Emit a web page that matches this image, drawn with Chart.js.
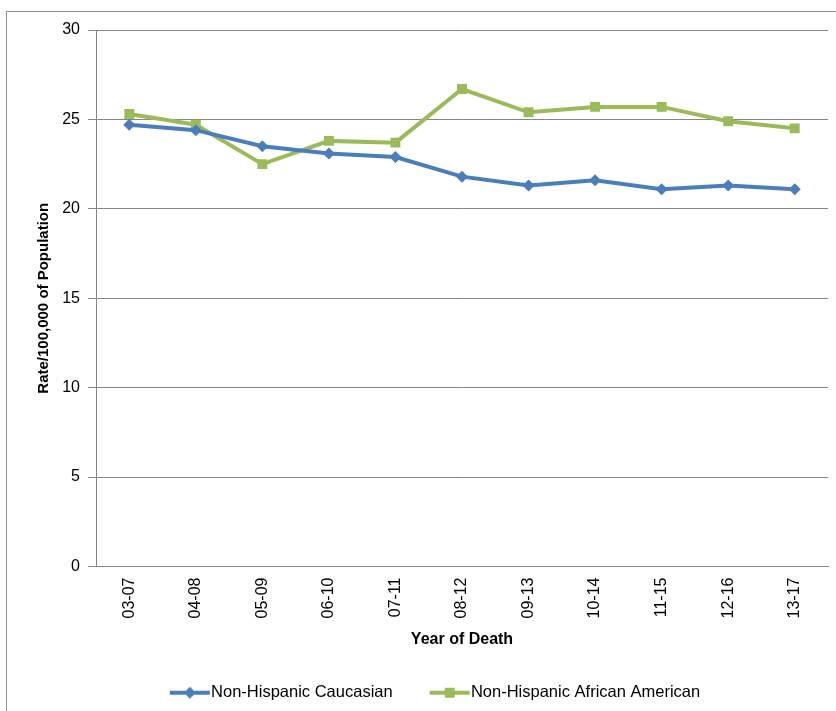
<!DOCTYPE html>
<html>
<head>
<meta charset="utf-8">
<script src="https://cdn.jsdelivr.net/npm/chart.js@4"></script>
<style>
  html, body { margin: 0; padding: 0; background: #fff; }
  #wrap { position: absolute; left: 0; top: 0; width: 836px; height: 711px; }
</style>
</head>
<body>
<div id="wrap"><canvas id="c" width="836" height="711"></canvas></div>
<script>
const categories = ["03-07","04-08","05-09","06-10","07-11","08-12","09-13","10-14","11-15","12-16","13-17"];
const caucasian = [24.7, 24.4, 23.5, 23.1, 22.9, 21.8, 21.3, 21.6, 21.1, 21.3, 21.1];
const africanAmerican = [25.3, 24.7, 22.5, 23.8, 23.7, 26.7, 25.4, 25.7, 25.7, 24.9, 24.5];
const seriesNames = ["Non-Hispanic Caucasian", "Non-Hispanic African American"];
const yTicks = [0, 5, 10, 15, 20, 25, 30];

const BLUE = "#4a7ebb";
const GREEN = "#9bbb59";
const GRID = "#868686";
const FONT = "'Liberation Sans', Arial, sans-serif";

function legendIcon(color, style) {
  const cv = document.createElement("canvas");
  cv.width = 80; cv.height = 14;
  const ctx = cv.getContext("2d");
  ctx.strokeStyle = color; ctx.lineWidth = 4;
  ctx.beginPath(); ctx.moveTo(27, 7); ctx.lineTo(67, 7); ctx.stroke();
  ctx.fillStyle = color;
  if (style === "diamond") {
    ctx.beginPath(); ctx.moveTo(47, 1); ctx.lineTo(53, 7); ctx.lineTo(47, 13); ctx.lineTo(41, 7); ctx.closePath(); ctx.fill();
  } else {
    ctx.fillRect(42, 2, 10, 10);
  }
  return cv;
}

const framePlugin = {
  id: "frame",
  beforeDraw(chart) {
    const ctx = chart.ctx;
    ctx.save();
    ctx.strokeStyle = "#8c8c8c";
    ctx.lineWidth = 1;
    ctx.strokeRect(6.5, 11.5, 1000, 1000);
    ctx.restore();
  }
};

new Chart(document.getElementById("c"), {
  type: "line",
  data: {
    labels: categories,
    datasets: [
      {
        label: seriesNames[0], data: caucasian,
        borderColor: BLUE, backgroundColor: BLUE, borderWidth: 4,
        pointStyle: "rectRot", pointRadius: 6, pointHoverRadius: 6,
        pointBackgroundColor: BLUE, pointBorderColor: BLUE, pointBorderWidth: 0,
        tension: 0, fill: false
      },
      {
        label: seriesNames[1], data: africanAmerican,
        borderColor: GREEN, backgroundColor: GREEN, borderWidth: 4,
        pointStyle: "rect", pointRadius: 7, pointHoverRadius: 7,
        pointBackgroundColor: GREEN, pointBorderColor: GREEN, pointBorderWidth: 0,
        tension: 0, fill: false
      }
    ]
  },
  options: {
    responsive: false,
    animation: false,
    layout: { padding: { left: 35, top: 30, right: 8, bottom: 0 } },
    plugins: {
      tooltip: { enabled: false },
      legend: {
        position: "bottom",
        labels: {
          font: { family: FONT, size: 16.5 },
          color: "#000",
          usePointStyle: true,
          pointStyleWidth: 40,
          padding: 30,
          generateLabels(chart) {
            return chart.data.datasets.map((ds, i) => ({
              text: ds.label,
              pointStyle: legendIcon(ds.borderColor, i === 0 ? "diamond" : "square"),
              fillStyle: ds.borderColor, strokeStyle: ds.borderColor,
              lineWidth: 0, hidden: false, datasetIndex: i, fontColor: "#000"
            }));
          }
        }
      }
    },
    scales: {
      x: {
        offset: true,
        grid: { display: false, drawTicks: false },
        border: { display: true, color: GRID, width: 1 },
        ticks: {
          font: { family: FONT, size: 16 }, color: "#000",
          minRotation: 90, maxRotation: 90, padding: 11
        },
        title: {
          display: true, text: "Year of Death",
          font: { family: FONT, size: 16, weight: "bold" }, color: "#000",
          padding: { top: 6, bottom: 5 }
        },
        afterFit(scale) { scale.height = 88; }
      },
      y: {
        min: 0, max: 30,
        afterBuildTicks(scale) { scale.ticks = yTicks.map(v => ({ value: v })); },
        grid: { color: GRID, lineWidth: 1, tickLength: 8, drawTicks: true },
        border: { display: true, color: GRID, width: 1 },
        ticks: { font: { family: FONT, size: 16 }, color: "#000", padding: 8 },
        title: {
          display: true, text: "Rate/100,000 of Population",
          font: { family: FONT, size: 15, weight: "bold" }, color: "#000",
          padding: { top: 0, bottom: 4 }
        },
        afterFit(scale) { scale.width = 61; }
      }
    }
  },
  plugins: [framePlugin]
});
</script>
</body>
</html>
